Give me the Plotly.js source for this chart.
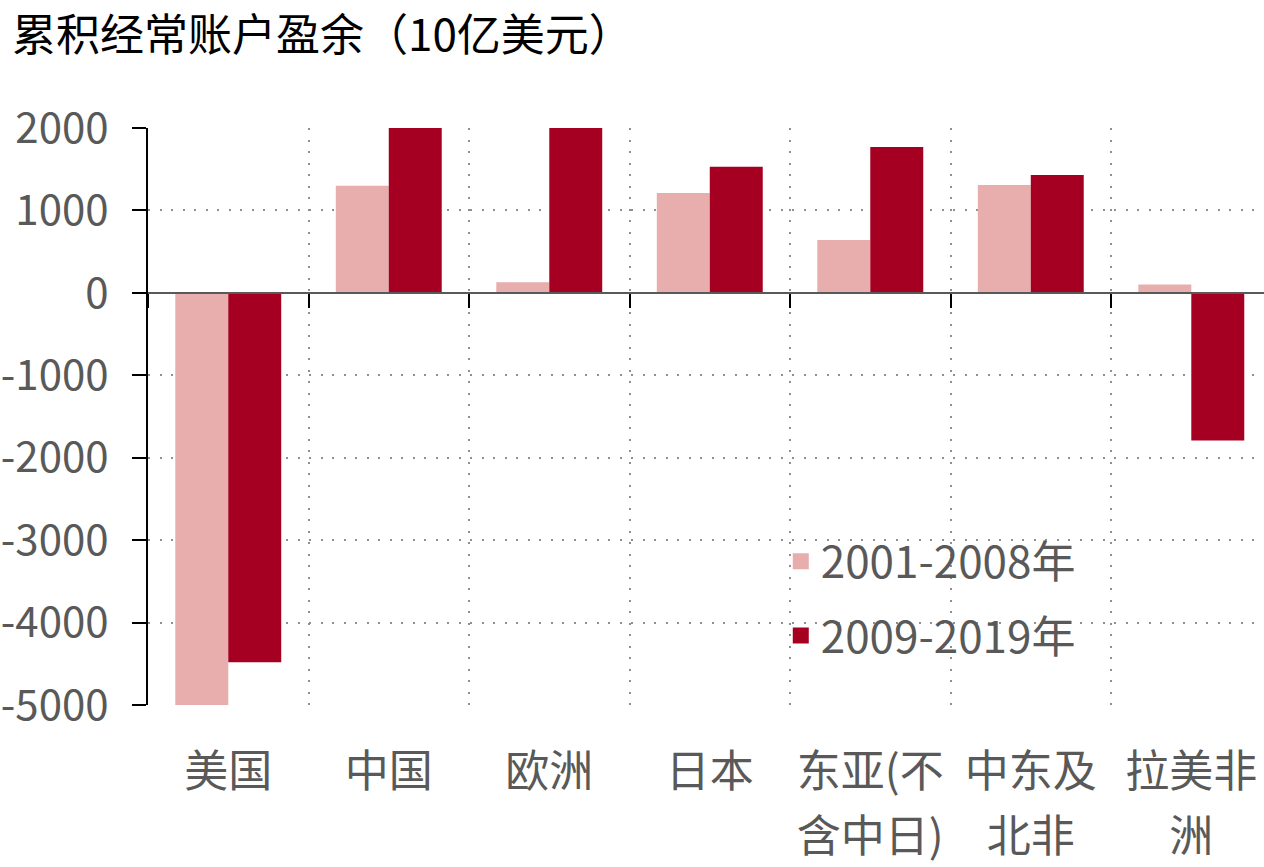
<!DOCTYPE html>
<html>
<head>
<meta charset="utf-8">
<script src="https://cdn.plot.ly/plotly-3.0.1.min.js"></script>
<style>html,body{margin:0;padding:0;background:#fff;}#chart{width:1264px;height:867px;}</style>
</head>
<body>
<div id="chart"></div>
<script>
const categories = ["美国", "中国", "欧洲", "日本", "东亚(不含中日)", "中东及北非", "拉美非洲"];
const labelLine1 = ["美国", "中国", "欧洲", "日本", "东亚(不", "中东及", "拉美非"];
const labelLine2 = ["", "", "", "", "含中日)", "北非", "洲"];
const series1Name = "2001-2008年";
const series2Name = "2009-2019年";
const series1 = [-5000, 1300, 130, 1210, 640, 1310, 100];
const series2 = [-4480, 2000, 2000, 1530, 1770, 1430, -1790];
const yTicks = [2000, 1000, 0, -1000, -2000, -3000, -4000, -5000];
const titleText = "累积经常账户盈余（10亿美元）";

const FONT = '"Noto Sans CJK SC", "Noto Sans", sans-serif';
const GREY = '#595959';
const GRID = '#8f8f8f';
const COLOR1 = '#E8ADAD';
const COLOR2 = '#A50021';
const xRange = [-0.5, 6.453];

const traces = [
  {type: 'bar', name: series1Name, x: categories, y: series1, marker: {color: COLOR1}, showlegend: false, hoverinfo: 'x+y'},
  {type: 'bar', name: series2Name, x: categories, y: series2, marker: {color: COLOR2}, showlegend: false, hoverinfo: 'x+y'},
  {type: 'scatter', mode: 'markers', name: series1Name, x: [null], y: [null], marker: {symbol: 'square', size: 24, color: COLOR1}, legendgroup: 'a', hoverinfo: 'skip'},
  {type: 'scatter', mode: 'markers', name: series2Name, x: [null], y: [null], marker: {symbol: 'square', size: 24, color: COLOR2}, legendgroup: 'b', hoverinfo: 'skip'},
  {type: 'scatter', mode: 'markers', x: categories, y: categories.map(() => 0), xaxis: 'x2', marker: {opacity: 0}, showlegend: false, hoverinfo: 'skip'},
  {type: 'scatter', mode: 'markers', x: categories, y: categories.map(() => 0), xaxis: 'x3', marker: {opacity: 0}, showlegend: false, hoverinfo: 'skip'}
];

const layout = {
  width: 1264, height: 867,
  margin: {l: 148, r: 0, t: 128, b: 162, pad: 0},
  paper_bgcolor: '#fff', plot_bgcolor: '#fff',
  font: {family: FONT, size: 42, color: GREY},
  title: {text: titleText, font: {family: FONT, size: 44, color: '#000'}, x: 12/1264, xanchor: 'left', xref: 'container', y: 1 - 36/867, yanchor: 'middle', yref: 'container'},
  barmode: 'group', bargap: 0.34, bargroupgap: 0,
  showlegend: true,
  legend: {x: 0.567, xanchor: 'left', y: 0.31, yanchor: 'top', bgcolor: 'rgba(0,0,0,0)', font: {family: FONT, size: 44, color: GREY}, traceorder: 'grouped', tracegroupgap: 14, itemsizing: 'trace'},
  xaxis: {
    type: 'category', categoryarray: categories, categoryorder: 'array', range: xRange,
    tickmode: 'array', tickvals: categories, ticktext: labelLine1,
    tickson: 'boundaries', ticks: '', showline: false, zeroline: false,
    showgrid: true, gridcolor: GRID, gridwidth: 2, griddash: '2px,9.5px',
    ticklabelstandoff: 37, tickfont: {family: FONT, size: 44, color: GREY}
  },
  xaxis2: {
    type: 'category', categoryarray: categories, categoryorder: 'array', range: xRange,
    overlaying: 'x', anchor: 'free', position: 5000/7000,
    tickson: 'boundaries', ticks: 'outside', ticklen: 14, tickwidth: 2, tickcolor: '#000',
    showticklabels: false, showgrid: false, showline: true, linecolor: GREY, linewidth: 2, zeroline: false
  },
  xaxis3: {
    type: 'category', categoryarray: categories, categoryorder: 'array', range: xRange,
    overlaying: 'x', anchor: 'y', side: 'bottom',
    tickmode: 'array', tickvals: categories, ticktext: labelLine2,
    ticks: '', showgrid: false, showline: false, zeroline: false,
    ticklabelstandoff: 102, tickfont: {family: FONT, size: 44, color: GREY}
  },
  yaxis: {
    range: [-5000, 2000], tickmode: 'array', tickvals: yTicks, ticktext: yTicks.map(String),
    ticks: 'outside', ticklen: 14, tickwidth: 2, tickcolor: '#000',
    showline: true, linecolor: '#000', linewidth: 2,
    showgrid: true, gridcolor: GRID, gridwidth: 2, griddash: '2px,9.5px',
    zeroline: false, ticklabelstandoff: 15,
    tickfont: {family: FONT, size: 42, color: GREY}
  }
};

Plotly.newPlot('chart', traces, layout, {displayModeBar: false, staticPlot: true});
</script>
</body>
</html>
